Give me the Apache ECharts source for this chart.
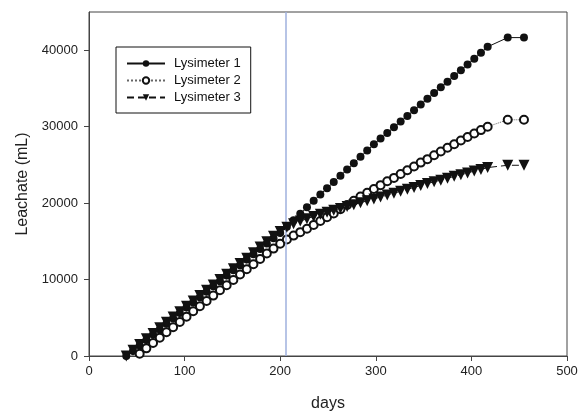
<!DOCTYPE html>
<html>
<head>
<meta charset="utf-8">
<script src="https://cdn.jsdelivr.net/npm/echarts@6/dist/echarts.min.js"></script>
<style>
  html, body { margin: 0; padding: 0; background: #fff; }
  #chart { width: 581px; height: 411px; }
</style>
</head>
<body>
<div id="chart"></div>
<script>
// Sampling days (weekly readings, then two late readings)
const days1 = [39,46,53,60,67,74,81,88,95,102,109,116,123,130,137,144,151,158,165,172,179,186,193,200,
  207,214,221,228,235,242,249,256,263,270,277,284,291,298,305,312,319,326,333,340,347,354,361,368,375,
  382,389,396,403,410,417,438,455];
const days2 = days1.slice(2);
const days3 = days1;

// Cumulative leachate volume (mL)
const lys1 = [0,650,1380,2090,2810,3480,4230,4920,5610,6330,7010,7690,8420,9110,9790,10520,11210,11880,
  12620,13310,13990,14720,15410,16100,16900,17750,18600,19450,20300,21120,21940,22760,23580,24400,25230,
  26050,26880,27700,28440,29180,29930,30670,31410,32160,32900,33650,34400,35140,35890,36640,37380,38130,
  38880,39660,40450,41650,41650];
const lys2 = [300,1000,1700,2400,3100,3750,4450,5150,5850,6500,7200,7900,8600,9250,9950,10650,11350,12000,
  12700,13400,14050,14700,15250,15750,16200,16650,17150,17650,18150,18650,19200,19750,20300,20850,21350,
  21850,22350,22850,23300,23800,24300,24800,25300,25750,26250,26750,27250,27700,28200,28650,29100,29550,
  30000,30900,30900];
const lys3 = [0,750,1500,2250,2950,3700,4400,5100,5800,6500,7200,7900,8600,9300,10000,10700,11400,12100,
  12800,13500,14250,14950,15650,16300,16850,17300,17650,17950,18250,18550,18800,19050,19300,19550,19800,
  20050,20300,20550,20800,21050,21300,21550,21800,22050,22300,22550,22800,23000,23250,23500,23700,23950,
  24200,24400,24650,24950,24950];

const seriesNames = ['Lysimeter 1', 'Lysimeter 2', 'Lysimeter 3'];
const xTicks = [0, 100, 200, 300, 400, 500];
const yTicks = [0, 10000, 20000, 30000, 40000];
const markerDay = 206;

const pairs = (xs, ys) => xs.map((x, i) => [x, ys[i]]);

const font = '"Liberation Sans", Arial, sans-serif';
const axisColor = '#444';

const chart = echarts.init(document.getElementById('chart'), null, { renderer: 'canvas' });
chart.setOption({
  backgroundColor: '#fff',
  animation: false,
  grid: {
    left: 89, right: 14, top: 12, bottom: 55,
    containLabel: false, outerBoundsMode: 'none',
    show: true, borderColor: axisColor, borderWidth: 1, backgroundColor: 'transparent'
  },
  legend: {
    data: seriesNames,
    orient: 'vertical',
    left: 116, top: 47,
    padding: [9, 10, 8, 10],
    itemWidth: 38, itemHeight: 8, itemGap: 2,
    borderColor: '#111', borderWidth: 1,
    backgroundColor: '#fff',
    textStyle: { fontFamily: font, fontSize: 13, color: '#111', padding: [0, 0, 0, 4], lineHeight: 15 }
  },
  xAxis: {
    type: 'value', min: 0, max: 500, interval: 100,
    name: 'days', nameLocation: 'middle', nameGap: 40,
    nameTextStyle: { fontFamily: font, fontSize: 16, color: '#222' },
    axisLine: { show: true, lineStyle: { color: axisColor, width: 1 } },
    axisTick: { show: true, inside: false, length: 5, lineStyle: { color: axisColor }, customValues: xTicks },
    axisLabel: { fontFamily: font, fontSize: 13, color: '#222', margin: 9, customValues: xTicks,
      formatter: v => String(v) },
    splitLine: { show: false }
  },
  yAxis: {
    type: 'value', min: 0, max: 45000, interval: 10000,
    name: 'Leachate (mL)', nameLocation: 'middle', nameGap: 58,
    nameTextStyle: { fontFamily: font, fontSize: 16, color: '#222' },
    axisLine: { show: true, lineStyle: { color: axisColor, width: 1 } },
    axisTick: { show: true, inside: false, length: 5, lineStyle: { color: axisColor }, customValues: yTicks },
    axisLabel: { fontFamily: font, fontSize: 13, color: '#222', margin: 11, customValues: yTicks,
      formatter: v => String(v) },
    splitLine: { show: false }
  },
  series: [
    {
      name: seriesNames[0], type: 'line', data: pairs(days1, lys1),
      symbol: 'circle', symbolSize: 8,
      itemStyle: { color: '#111' },
      lineStyle: { color: '#111', width: 1, type: 'solid' },
      markLine: {
        silent: true, symbol: 'none', animation: false,
        label: { show: false },
        lineStyle: { color: '#9fb0de', width: 1.5, type: 'solid' },
        data: [{ xAxis: markerDay }]
      },
      z: 3
    },
    {
      name: seriesNames[1], type: 'line', data: pairs(days2, lys2),
      symbol: 'emptyCircle', symbolSize: 8,
      itemStyle: { color: '#111', borderColor: '#111', borderWidth: 1.2 },
      lineStyle: { color: '#666', width: 1, type: 'dotted' },
      z: 4
    },
    {
      name: seriesNames[2], type: 'line', data: pairs(days3, lys3),
      symbol: 'triangle', symbolSize: 11, symbolRotate: 180,
      itemStyle: { color: '#111' },
      lineStyle: { color: '#111', width: 1, type: [7, 4] },
      z: 5
    }
  ]
});
</script>
</body>
</html>
